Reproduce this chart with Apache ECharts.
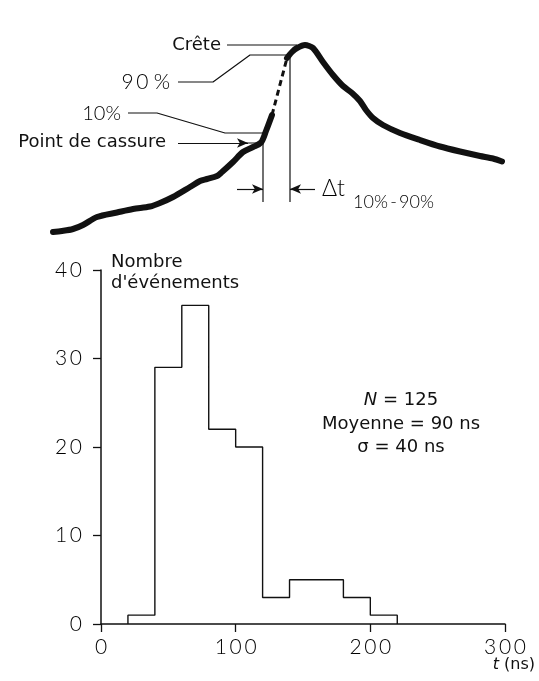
<!DOCTYPE html>
<html>
<head>
<meta charset="utf-8">
<script src="https://cdn.jsdelivr.net/npm/echarts@6/dist/echarts.min.js"></script>
<style>
  html, body { margin: 0; padding: 0; background: #fff; }
  #chart { width: 539px; height: 681px; }
</style>
</head>
<body>
<div id="chart"></div>
<script>
// ---- Histogram: rise time 10%-90% (ns), bins of 20 ns ----
const binEdges = [20, 40, 60, 80, 100, 120, 140, 160, 180, 200, 220];
const eventCounts = [1, 29, 36, 22, 20, 3, 5, 5, 3, 1];
const timeTicks = [0, 100, 200, 300];
const countTicks = [0, 10, 20, 30, 40];
const statsLines = ['N = 125', 'Moyenne = 90 ns', 'σ = 40 ns'];

// ---- Pulse sketch (panel units: x to the right, y downward) ----
const waveRise = [[53, 232], [62, 231], [73, 229], [83, 225], [97, 217], [117, 212.5], [133, 209],
  [150, 206.5], [160, 203], [173, 197], [190, 187], [200, 181], [207, 179], [217, 176], [222, 172],
  [233, 162], [243, 152], [253, 147], [261, 142.5], [266, 131], [272, 115]];
const waveDashed = [[272, 115], [287, 58]];
const waveFall = [[287, 58], [292, 52], [297, 48], [305, 45], [313, 48], [323, 62], [333, 75],
  [343, 86], [352, 93], [360, 101], [366, 110], [373, 118], [383, 125], [400, 133], [420, 140],
  [440, 146.5], [460, 151.5], [480, 156], [493, 158.5], [502, 161.5]];

// Leader lines of the annotations
const leaderCrete = [[227, 45], [297, 45]];
const leader90 = [[178, 82], [213, 82], [250, 55], [288, 55]];
const leader10 = [[128, 113], [157, 113], [225, 133], [262, 133]];
const leaderCassure = [[246, 143], [261, 143]];
const markerT10 = [[263, 132], [263, 202]];
const markerT90 = [[290, 57], [290, 202]];
// Arrows: [from, to]
const arrows = [
  [[178, 143], [248, 143]],
  [[237, 189], [263, 189]],
  [[315, 189], [290, 189]]
];

const INK = '#111';
const GEO = 'Lato, "DejaVu Sans", sans-serif';
const SANS = '"DejaVu Sans", sans-serif';
const spaced = v => String(v).split('').join('\u2009');

// Step outline of the histogram built from the bins
const outline = [[binEdges[0], 0]];
eventCounts.forEach((c, i) => { outline.push([binEdges[i], c], [binEdges[i + 1], c]); });
outline.push([binEdges[binEdges.length - 1], 0]);

function thin(data) {
  return {
    type: 'line', xAxisIndex: 1, yAxisIndex: 1, data: data, symbol: 'none', silent: true,
    lineStyle: { color: INK, width: 1.2 }, z: 3
  };
}

const chart = echarts.init(document.getElementById('chart'), null, { renderer: 'canvas' });
chart.setOption({
  animation: false,
  backgroundColor: '#fff',
  grid: [
    { left: 101, right: 34, top: 270, bottom: 57 },
    { left: 0, top: 0, width: 539, height: 250 }
  ],
  xAxis: [
    {
      type: 'value', gridIndex: 0, min: 0, max: 300, interval: 100,
      axisLine: { show: true, lineStyle: { color: INK, width: 1.5 } },
      axisTick: { show: true, length: 8, lineStyle: { color: INK, width: 1.3 } },
      axisLabel: {
        margin: 13, color: '#000', fontFamily: GEO, fontWeight: 300, fontSize: 21,
        formatter: v => timeTicks.includes(v) ? spaced(v) : ''
      },
      splitLine: { show: false }
    },
    { type: 'value', gridIndex: 1, min: 0, max: 539, show: false }
  ],
  yAxis: [
    {
      type: 'value', gridIndex: 0, min: 0, max: 40, interval: 10,
      axisLine: { show: true, lineStyle: { color: INK, width: 1.5 } },
      axisTick: { show: true, length: 8, lineStyle: { color: INK, width: 1.3 } },
      axisLabel: {
        margin: 19, color: '#000', fontFamily: GEO, fontWeight: 300, fontSize: 21,
        formatter: v => countTicks.includes(v) ? spaced(v) : ''
      },
      splitLine: { show: false }
    },
    { type: 'value', gridIndex: 1, min: 0, max: 250, inverse: true, show: false }
  ],
  series: [
    {
      type: 'line', xAxisIndex: 0, yAxisIndex: 0, data: outline, symbol: 'none', silent: true,
      lineStyle: { color: INK, width: 1.4 }, z: 3
    },
    {
      type: 'line', xAxisIndex: 1, yAxisIndex: 1, data: waveRise, symbol: 'none', silent: true,
      smooth: 0.3, lineStyle: { color: INK, width: 6, cap: 'round', join: 'round' }, z: 4,
      markLine: {
        silent: true, symbol: ['none', 'arrow'], symbolSize: [7, 11], animation: false,
        label: { show: false }, emphasis: { disabled: true },
        lineStyle: { color: INK, width: 1.2, type: 'solid' },
        data: arrows.map(a => [{ coord: a[0] }, { coord: a[1] }])
      }
    },
    {
      type: 'line', xAxisIndex: 1, yAxisIndex: 1, data: waveDashed, symbol: 'none', silent: true,
      lineStyle: { color: INK, width: 3, type: [6, 4] }, z: 4
    },
    {
      type: 'line', xAxisIndex: 1, yAxisIndex: 1, data: waveFall, symbol: 'none', silent: true,
      smooth: 0.25, lineStyle: { color: INK, width: 6, cap: 'round', join: 'round' }, z: 4
    },
    thin(leaderCrete), thin(leader90), thin(leader10), thin(leaderCassure),
    thin(markerT10), thin(markerT90)
  ],
  graphic: [
    { type: 'text', x: 221, y: 45, style: { text: 'Crête', fill: INK, font: '18px ' + SANS, textAlign: 'right', textVerticalAlign: 'middle' } },
    { type: 'text', x: 170, y: 82, style: { text: '9\u20090\u2009\u2009%', fill: '#000', font: '300 21px ' + GEO, textAlign: 'right', textVerticalAlign: 'middle' } },
    { type: 'text', x: 121, y: 114, style: { text: '10%', fill: '#000', font: '300 20px ' + GEO, textAlign: 'right', textVerticalAlign: 'middle' } },
    { type: 'text', x: 166, y: 142, style: { text: 'Point de cassure', fill: INK, font: '18px ' + SANS, textAlign: 'right', textVerticalAlign: 'middle' } },
    { type: 'text', x: 322, y: 189, style: { text: 'Δt', fill: '#000', font: '300 23px ' + GEO, textAlign: 'left', textVerticalAlign: 'middle' } },
    { type: 'text', x: 353, y: 202, style: { text: '10%\u2009-\u200990%', fill: '#000', font: '300 18px ' + GEO, textAlign: 'left', textVerticalAlign: 'middle' } },
    { type: 'text', x: 111, y: 273, style: { text: 'Nombre\nd\'événements', fill: INK, font: '18px ' + SANS, lineHeight: 21, textAlign: 'left', textVerticalAlign: 'middle' } },
    {
      type: 'text', x: 401, y: 424,
      style: {
        text: '{i|N} = 125\n' + statsLines[1] + '\n' + statsLines[2],
        fill: INK, font: '18px ' + SANS, lineHeight: 23.5, textAlign: 'center', textVerticalAlign: 'middle',
        rich: { i: { fontStyle: 'italic', fontFamily: SANS, fontSize: 18, fill: INK } }
      }
    },
    {
      type: 'text', x: 535, y: 665,
      style: {
        text: '{i|t} (ns)', fill: INK, font: '16px ' + SANS, textAlign: 'right', textVerticalAlign: 'middle',
        rich: { i: { fontStyle: 'italic', fontFamily: SANS, fontSize: 16, fill: INK } }
      }
    }
  ]
});
</script>
</body>
</html>
